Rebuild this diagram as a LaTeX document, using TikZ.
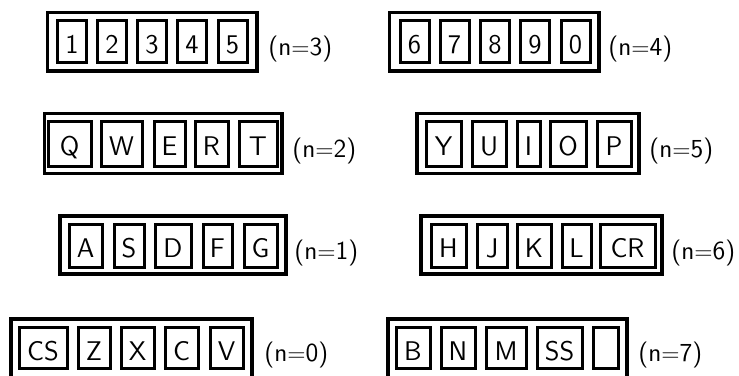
\documentclass[tikz,border=0pt]{standalone}
\usepackage{fontspec}
\usepackage{tikz}

\begin{document}
\begin{tikzpicture}[x=0.5pt,y=-0.5pt,
    key/.style={draw, line width=1.5pt, inner sep=0pt, outer sep=0pt,
      minimum width=14.5pt, minimum height=21pt, text height=12.5pt, text depth=0.5pt,
      font=\sffamily\fontsize{13.5}{15}\selectfont},
    grp/.style={draw, line width=1.7pt, inner sep=0pt, outer sep=0pt},
    countlabel/.style={anchor=base west, inner sep=0pt, font=\sffamily\fontsize{13}{15}\selectfont}]
    \useasboundingbox (0,0) rectangle (739,375);
    % Outer frames
    \node[grp, minimum width=104.75pt, minimum height=29.25pt] (grp3) at (152.25,41.75) {};
    \node[grp, minimum width=104.75pt, minimum height=29.25pt] (grp4) at (494.25,41.75) {};
    \node[grp, minimum width=118.75pt, minimum height=30pt] (grp2) at (163.25,143.5) {};
    \node[grp, minimum width=111pt, minimum height=30pt] (grp5) at (528,143.5) {};
    \node[grp, minimum width=113pt, minimum height=29pt] (grp1) at (173,245) {};
    \node[grp, minimum width=120.5pt, minimum height=29pt] (grp6) at (541.5,245) {};
    \node[grp, minimum width=120.5pt, minimum height=29.5pt] (grp0) at (131.5,348.5) {};
    \node[grp, minimum width=119.5pt, minimum height=29.5pt] (grp7) at (507.5,348.5) {};
    % Digits
    \begin{scope}[key/.append style={minimum height=21pt}]
    \node[key] (k1) at (72,41.5) {1};
    \node[key] (k2) at (112,41.5) {2};
    \node[key] (k3) at (152,41.5) {3};
    \node[key] (k4) at (192,41.5) {4};
    \node[key] (k5) at (232.5,41.5) {5};
    \node[key] (k6) at (414.5,41.5) {6};
    \node[key] (k7) at (454.5,41.5) {7};
    \node[key] (k8) at (495,41.5) {8};
    \node[key] (k9) at (535,41.5) {9};
    \node[key] (k0) at (575.5,41.5) {0};
    \end{scope}
    % Upper letter row
    \begin{scope}[key/.append style={minimum height=22.5pt}]
    \node[key, minimum width=21.5pt] (kQ) at (69.5,143.5) {Q};
    \node[key, minimum width=20.5pt] (kW) at (121.5,143.5) {W};
    \node[key, minimum width=15.5pt] (kE) at (169.5,143.5) {E};
    \node[key, minimum width=16.5pt] (kR) at (211.5,143.5) {R};
    \node[key, minimum width=19pt] (kT) at (258,143.5) {T};
    \node[key, minimum width=17.5pt] (kY) at (443.5,143.5) {Y};
    \node[key, minimum width=17pt] (kU) at (489,143.5) {U};
    \node[key, minimum width=11.5pt] (kI) at (528.5,143.5) {I};
    \node[key, minimum width=18pt] (kO) at (568,143.5) {O};
    \node[key, minimum width=17pt] (kP) at (614,143.5) {P};
    \end{scope}
    % Middle letter row
    \begin{scope}[key/.append style={minimum height=21.5pt}]
    \node[key, minimum width=16.5pt] (kA) at (85.5,245.5) {A};
    \node[key, minimum width=15pt] (kS) at (129,245.5) {S};
    \node[key, minimum width=18pt] (kD) at (173,245.5) {D};
    \node[key, minimum width=14.5pt] (kF) at (217.5,245.5) {F};
    \node[key, minimum width=16.5pt] (kG) at (260.5,245.5) {G};
    \node[key, minimum width=17.5pt] (kH) at (448.5,245.5) {H};
    \node[key, minimum width=15pt] (kJ) at (492,245.5) {J};
    \node[key, minimum width=17pt] (kK) at (534,245.5) {K};
    \node[key, minimum width=14.5pt] (kL) at (576.5,245.5) {L};
    \node[key, minimum width=27.5pt] (kCR) at (627.5,245.5) {CR};
    \end{scope}
    % Lower letter row
    \begin{scope}[key/.append style={minimum height=20.5pt}]
    \node[key, minimum width=24pt] (kCS) at (43,348) {CS};
    \node[key, minimum width=16pt] (kZ) at (94,348) {Z};
    \node[key, minimum width=16.5pt] (kX) at (137.5,348) {X};
    \node[key, minimum width=16.5pt] (kC) at (181.5,348) {C};
    \node[key, minimum width=16.5pt] (kV) at (226.5,348) {V};
    \node[key, minimum width=17pt] (kB) at (413,348) {B};
    \node[key, minimum width=17pt] (kN) at (458,348) {N};
    \node[key, minimum width=20pt] (kM) at (506,348) {M};
    \node[key, minimum width=22.5pt] (kSS) at (559.5,348) {SS};
    \node[key, minimum width=12.5pt] (kblank) at (605.5,348) {};
    \end{scope}
    % Shift counts
    \node[countlabel] (lab3) at (268,55) {(n$=$3)};
    \node[countlabel] (lab4) at (608,55) {(n$=$4)};
    \node[countlabel] (lab2) at (292,157) {(n$=$2)};
    \node[countlabel] (lab5) at (649,157) {(n$=$5)};
    \node[countlabel] (lab1) at (294,259) {(n$=$1)};
    \node[countlabel] (lab6) at (671,259) {(n$=$6)};
    \node[countlabel] (lab0) at (264,361.5) {(n$=$0)};
    \node[countlabel] (lab7) at (638,361.5) {(n$=$7)};
\end{tikzpicture}
\end{document}
